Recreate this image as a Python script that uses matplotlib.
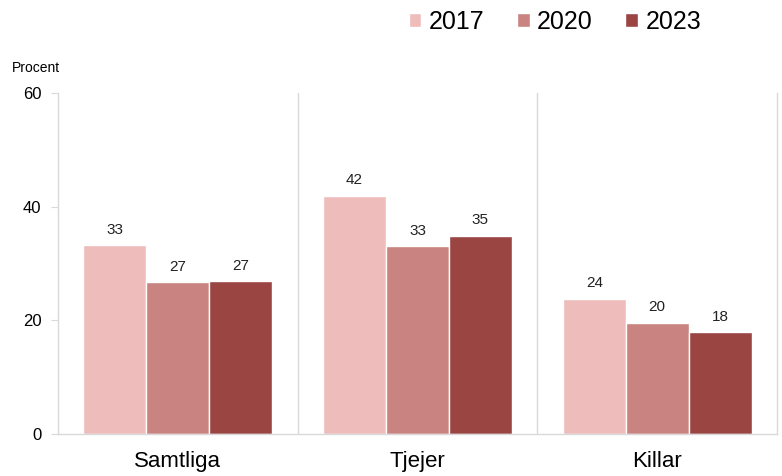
import matplotlib
matplotlib.use("Agg")
import matplotlib.pyplot as plt
import numpy as np

categories = ["Samtliga", "Tjejer", "Killar"]
years = ["2017", "2020", "2023"]
values_2017 = [33.2, 41.9, 23.8]
values_2020 = [26.7, 33.0, 19.6]
values_2023 = [26.9, 34.9, 17.9]
series = [values_2017, values_2020, values_2023]
colors = ["#EFBCBC", "#C98380", "#9A4542"]
yticks = [0, 20, 40, 60]

plt.rcParams['font.family'] = ['Liberation Sans', 'DejaVu Sans']

fig = plt.figure(figsize=(7.82, 4.76), dpi=100)
ax = fig.add_axes([0.0742, 0.0882, 0.9194, 0.7164])

x = np.arange(len(categories))
w = 0.2625
handles = []
for i, (vals, c, yr) in enumerate(zip(series, colors, years)):
    pos = x + (i - 1) * w
    b = ax.bar(pos, vals, width=w, color=c, edgecolor="white", linewidth=1, label=yr)
    handles.append(b)
    for p, v in zip(pos, vals):
        ax.text(p, v + 1.5, f"{round(v):d}", ha="center", va="bottom", fontsize=11, color="#222222")

ax.set_xlim(-0.5, len(categories) - 0.5)
ax.set_ylim(0, 60)
ax.set_yticks(yticks)
ax.set_yticklabels([str(t) for t in yticks], fontsize=12)
ax.set_xticks(x)
ax.set_xticklabels(categories, fontsize=16)
ax.tick_params(axis="x", length=0, pad=12)
ax.tick_params(axis="y", length=5, color="#D9D9D9", pad=7)

for sep in [0.5, 1.5]:
    ax.axvline(sep, color="#D9D9D9", linewidth=1, zorder=0)

for s in ["left", "right", "bottom"]:
    ax.spines[s].set_color("#D9D9D9")
    ax.spines[s].set_linewidth(1)
ax.spines["top"].set_visible(False)

fig.text(12 / 782, 1 - 68 / 476, "Procent", fontsize=10, va="center", ha="left")

fig.legend(handles=handles, labels=years, loc="center", bbox_to_anchor=(555 / 782, 1 - 22 / 476),
           ncol=3, frameon=False, fontsize=18, handlelength=0.5, handleheight=0.5,
           handletextpad=0.3, columnspacing=1.3)

fig.savefig("out.png", dpi=100)
